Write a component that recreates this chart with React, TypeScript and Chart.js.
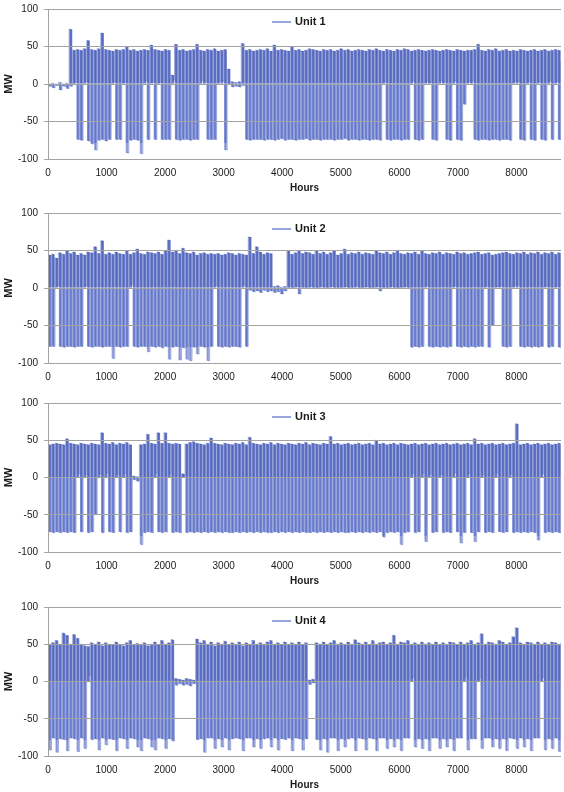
import React, { useEffect, useRef } from "react";
import { Chart, registerables } from "chart.js";

Chart.register(...registerables);

// ---------- data ----------
// Each unit is read off the picture as the highest (HI) and lowest (LO)
// reading inside every 60-hour window (window i starts at hour 60*i).
const BIN_HOURS = 60;
const X_TICKS = [0, 1000, 2000, 3000, 4000, 5000, 6000, 7000, 8000];
const Y_TICKS = [-100, -50, 0, 50, 100];
const UNIT_NAMES = ["Unit 1", "Unit 2", "Unit 3", "Unit 4"];

const UNIT1_HI = [
  0, 1, 0, 2, 0, 1, 73, 45, 46, 45,
  47, 58, 46, 45, 47, 68, 46, 45, 44, 46,
  45, 46, 50, 45, 46, 44, 45, 46, 45, 52,
  46, 45, 44, 46, 45, 12, 53, 45, 46, 44,
  45, 46, 53, 45, 44, 46, 45, 47, 44, 45,
  46, 20, 3, 2, 3, 54, 45, 46, 44, 45,
  46, 45, 47, 44, 52, 45, 46, 45, 44, 50,
  45, 46, 44, 45, 47, 46, 45, 44, 46, 45,
  46, 44, 45, 47, 45, 46, 44, 45, 46, 45,
  44, 46, 45, 47, 45, 44, 46, 45, 44, 46,
  45, 47, 46, 44, 45, 46, 45, 44, 45, 46,
  45, 44, 45, 46, 45, 44, 46, 45, 44, 45,
  45, 46, 53, 45, 44, 46, 45, 47, 44, 45,
  46, 44, 45, 44, 46, 45, 44, 45, 46, 44,
  45, 46, 44, 45, 46, 45, 30,
];
const UNIT1_LO = [
  -3, -5, -2, -8, -3, -6, -3, 2, -74, -75,
  3, -76, -80, -88, -75, -74, -76, -74, 3, -74,
  -74, 2, -92, -75, -74, -75, -93, 4, -74, 3,
  -74, 2, -74, -74, -74, 5, -74, -75, -74, -74,
  -75, -74, -74, 5, 3, -74, -74, -74, 3, 4,
  -88, 0, -4, -3, -4, -2, -74, -75, -74, -74,
  -74, -75, -74, -74, -75, -74, -73, -75, -74, -74,
  -75, -74, -74, -73, -75, -74, -74, -75, -74, -74,
  -74, -75, -74, -74, -73, -75, -74, -74, -75, -74,
  -74, -75, -74, -74, -75, 3, -74, -75, -74, -74,
  -75, -74, -74, 4, -74, -75, -74, 3, 2, -74,
  -75, 4, 3, -74, -75, 4, -74, -75, -27, 3,
  4, -74, -75, -74, -74, -75, -74, -74, -75, -74,
  -74, -75, 3, 4, -74, -75, 3, -74, -75, 3,
  -74, -75, 4, -74, 3, -74, 2,
];

const UNIT2_HI = [
  44, 45, 40, 47, 45, 50, 46, 48, 44, 46,
  44, 48, 47, 55, 46, 63, 45, 47, 45, 48,
  46, 45, 50, 45, 47, 52, 46, 45, 48, 47,
  46, 48, 45, 50, 64, 48, 50, 46, 53, 47,
  46, 48, 44, 46, 47, 45, 46, 45, 46, 44,
  45, 47, 46, 44, 46, 45, 44, 68, 46, 55,
  48, 45, 47, 46, 2, 3, 1, 2, 50, 45,
  47, 50, 46, 48, 47, 45, 50, 46, 48, 45,
  47, 50, 44, 46, 52, 45, 47, 46, 48, 45,
  47, 46, 45, 50, 47, 46, 48, 45, 47, 50,
  46, 45, 47, 46, 48, 45, 50, 46, 45, 47,
  46, 48, 45, 47, 46, 45, 48, 46, 47, 45,
  46, 47, 48, 45, 46, 47, 44, 45, 46, 47,
  48, 46, 45, 47, 46, 48, 45, 47, 46, 48,
  45, 47, 46, 48, 45, 47, 46,
];
const UNIT2_LO = [
  -78, -78, 3, -78, -79, -78, -78, -79, -78, -78,
  3, -78, -79, -78, -78, -79, -78, -78, -94, -78,
  -79, -78, -78, 5, -78, -79, -78, -78, -85, -78,
  -79, -78, -80, -78, -95, -79, -78, -96, -80, -95,
  -97, -79, -88, -78, -79, -97, -78, 3, -78, -79,
  -78, -79, -78, -78, -79, 4, -78, -3, -5, -4,
  -6, -3, -5, -4, -6, -5, -8, -4, 1, 0,
  2, -8, 1, 0, 2, 1, 0, 3, 1, 0,
  2, 1, 0, 1, 2, 0, 1, 3, 0, 1,
  2, 0, 1, 2, -4, 1, 0, 2, 1, 0,
  1, 2, 0, -79, -78, -79, -78, 3, -78, -79,
  -78, -79, -78, -79, -78, 3, -78, -79, -78, -79,
  -78, -79, -78, -78, 3, -79, -50, 2, 3, -78,
  -79, -78, 3, 4, -78, -79, -78, -79, -78, -79,
  -78, 3, -79, -78, 2, -79, -78,
];

const UNIT3_HI = [
  44, 45, 46, 45, 44, 52, 46, 45, 44, 46,
  45, 44, 46, 45, 44, 60, 46, 45, 47, 44,
  46, 45, 47, 44, 2, 1, 44, 45, 58, 46,
  45, 60, 46, 60, 46, 45, 46, 45, 5, 45,
  47, 48, 46, 45, 44, 46, 53, 46, 45, 44,
  46, 45, 44, 46, 45, 47, 44, 54, 46, 45,
  44, 46, 45, 47, 44, 46, 45, 44, 46, 45,
  44, 46, 45, 47, 44, 46, 45, 44, 46, 45,
  55, 45, 46, 44, 45, 46, 44, 45, 46, 44,
  45, 46, 44, 50, 45, 46, 44, 45, 46, 44,
  46, 45, 44, 45, 46, 44, 45, 46, 44, 45,
  46, 44, 45, 46, 44, 45, 46, 44, 45, 46,
  44, 52, 45, 46, 44, 45, 46, 44, 45, 46,
  44, 45, 46, 72, 44, 45, 46, 44, 45, 46,
  44, 45, 46, 44, 45, 46, 44,
];
const UNIT3_LO = [
  -73, -74, -73, -74, -73, -74, -73, -74, 5, -73,
  4, -74, -73, -50, 5, -74, 6, -73, -74, 4,
  -73, 5, -74, -73, -3, -5, -90, -74, -73, -74,
  6, -73, -74, -73, 5, -74, -73, -74, 2, -74,
  -73, -74, -73, -74, -73, -74, -73, -74, -73, -74,
  -73, -74, -74, -73, -74, -73, -74, -73, -74, -73,
  -74, -73, -74, -74, -73, -74, -73, -74, -73, -74,
  -73, -74, -73, -74, -74, -73, -74, -73, -74, -73,
  -74, -73, -74, -73, -74, -74, -73, -74, -73, -74,
  -73, -74, -73, -74, -73, -80, -74, -73, -74, -73,
  -90, -74, -73, 5, -74, -73, 6, -86, 5, -74,
  -73, 4, -74, -73, -74, 6, -73, -88, -74, 5,
  -74, -86, -73, 4, -74, -73, -74, 6, -73, -74,
  -73, 5, -74, -73, -74, -73, -74, -73, -74, -84,
  5, -74, -73, -74, -73, -74, -73,
];

const UNIT4_HI = [
  50, 52, 55, 50, 65, 62, 50, 63, 58, 50,
  48, 47, 52, 50, 53, 48, 52, 50, 49, 53,
  50, 48, 52, 55, 49, 51, 50, 52, 48, 50,
  53, 49, 55, 50, 52, 56, 4, 3, 2, 4,
  3, 2, 57, 52, 55, 50, 53, 48, 52, 50,
  54, 49, 52, 50, 53, 48, 52, 50, 55, 49,
  52, 50, 53, 55, 50, 52, 49, 53, 50, 52,
  50, 53, 49, 52, 2, 3, 52, 50, 53, 49,
  52, 55, 50, 52, 49, 53, 50, 56, 52, 50,
  53, 49, 55, 50, 52, 53, 50, 52, 62, 50,
  53, 52, 55, 50, 52, 49, 53, 50, 52, 50,
  53, 49, 52, 50, 53, 52, 49, 53, 50, 52,
  55, 50, 52, 64, 50, 53, 52, 50, 55, 53,
  50, 52, 60, 72, 52, 50, 53, 52, 50, 53,
  50, 52, 49, 53, 52, 50, 53,
];
const UNIT4_LO = [
  -92, -76, -95, -77, -78, -93, -76, -77, -94, -76,
  -90, 8, -78, -77, -92, -76, -85, -77, -78, -93,
  -76, -77, -90, -76, -77, -88, -93, -76, -77, -88,
  -92, -76, -77, -90, -77, -80, -5, -3, -5, -4,
  -6, -3, -78, -77, -95, -76, -76, -90, -77, -88,
  -76, -92, -77, -76, -77, -93, -76, -76, -88, -77,
  -90, -77, -76, -88, -76, -92, -77, -78, -76, -93,
  -76, -77, -92, -77, -4, -2, -78, -92, -77, -95,
  -76, -76, -93, -77, -88, -77, -76, -93, -76, -77,
  -92, -76, -77, -93, -76, -76, -90, -77, -88, -77,
  -93, -76, -76, 5, -88, -77, -90, -77, -93, -76,
  -76, -90, -77, -88, -77, -93, -76, -76, 6, -92,
  -77, -77, 4, -90, -76, -76, -88, -77, -90, -77,
  -93, -76, -77, -90, -76, -88, -77, -93, -76, -76,
  5, -92, -77, -90, -76, -94, -88,
];

const UNIT_HI = [UNIT1_HI, UNIT2_HI, UNIT3_HI, UNIT4_HI];
const UNIT_LO = [UNIT1_LO, UNIT2_LO, UNIT3_LO, UNIT4_LO];

// ---------- layout / style ----------
const FONT = '"Liberation Sans", Arial, sans-serif';
const UP_BAR = "rgba(80, 100, 190, 0.88)";
const DOWN_BAR = "rgba(100, 121, 206, 0.85)";
const DEEP_BAR = "rgba(146, 160, 222, 0.8)";
const TRACE = "rgba(60, 80, 178, 0.42)";
const LEGEND_COLOR = "rgb(118, 138, 212)";
const GRID_COLOR = "#a3a3a3";
const TEXT_COLOR = "#1a1a1a";
const PAD_TOP = 8;
const X_AXIS_H = 36;
const Y_AXIS_W = 48;

const PANEL_LAYOUT = [
  { plotTop: 5, plotH: 154, legendDy: 13, showHours: true },
  { plotTop: 209, plotH: 154, legendDy: 16, showHours: false },
  { plotTop: 399, plotH: 153, legendDy: 14, showHours: true },
  { plotTop: 603, plotH: 153, legendDy: 14, showHours: true },
];

// Lower bars: medium blue down to about -79 MW, lighter for the deeper spikes.
function lowerColor(c: any) {
  const chart = c.chart;
  const { ctx, chartArea, scales } = chart;
  if (!chartArea || !scales || !scales.y) return DOWN_BAR;
  const yCut = scales.y.getPixelForValue(-79);
  const span = chartArea.bottom - chartArea.top;
  if (!(span > 0) || !isFinite(yCut)) return DOWN_BAR;
  const t = Math.min(1, Math.max(0, (yCut - chartArea.top) / span));
  const g = ctx.createLinearGradient(0, chartArea.top, 0, chartArea.bottom);
  g.addColorStop(0, DOWN_BAR);
  g.addColorStop(t, DOWN_BAR);
  g.addColorStop(t, DEEP_BAR);
  g.addColorStop(1, DEEP_BAR);
  return g;
}

type PanelProps = {
  name: string;
  hi: number[];
  lo: number[];
  plotTop: number;
  plotH: number;
  legendDy: number;
  showHours: boolean;
};

function Panel({ name, hi, lo, plotTop, plotH, legendDy, showHours }: PanelProps) {
  const ref = useRef<HTMLCanvasElement | null>(null);
  const height = PAD_TOP + plotH + X_AXIS_H;

  useEffect(() => {
    if (!ref.current) return;
    const half = BIN_HOURS / 2;
    const upperBars = hi.map((h, i) => ({ x: i * BIN_HOURS + half, y: [0, Math.max(h, 0)] }));
    const lowerBars = lo.map((l, i) => ({ x: i * BIN_HOURS + half, y: [Math.min(l, 0), 0] }));
    const trace: { x: number; y: number }[] = [];
    hi.forEach((h, i) => {
      trace.push({ x: i * BIN_HOURS + half * 0.5, y: h });
      if (i < lo.length) trace.push({ x: i * BIN_HOURS + half * 1.5, y: lo[i] });
    });

    const legendPlugin = {
      id: "unitLegend",
      afterDraw(chart: any) {
        const { ctx, chartArea } = chart;
        const y = chartArea.top + legendDy;
        ctx.save();
        ctx.strokeStyle = LEGEND_COLOR;
        ctx.lineWidth = 1.5;
        ctx.beginPath();
        ctx.moveTo(272, y);
        ctx.lineTo(291, y);
        ctx.stroke();
        ctx.fillStyle = TEXT_COLOR;
        ctx.font = `bold 11px ${FONT}`;
        ctx.textBaseline = "middle";
        ctx.textAlign = "left";
        ctx.fillText(name, 295, y);
        ctx.restore();
      },
    };

    const barCommon = {
      type: "bar",
      grouped: false,
      barPercentage: 0.8,
      categoryPercentage: 1,
      borderWidth: 0,
      inflateAmount: 0,
      clip: 0,
    };

    const chart = new Chart(ref.current, {
      type: "bar",
      data: {
        datasets: [
          { ...barCommon, label: name + " low", data: lowerBars, backgroundColor: lowerColor, order: 3 } as any,
          { ...barCommon, label: name + " high", data: upperBars, backgroundColor: UP_BAR, order: 2 } as any,
          {
            type: "line",
            label: name,
            data: trace,
            borderColor: TRACE,
            borderWidth: 1,
            pointRadius: 0,
            stepped: "middle",
            fill: false,
            clip: 0,
            order: 1,
          } as any,
        ],
      },
      options: {
        animation: false,
        responsive: false,
        devicePixelRatio: 1,
        events: [],
        layout: { padding: { top: PAD_TOP, right: 3, left: 0, bottom: 0 } },
        plugins: {
          legend: { display: false },
          tooltip: { enabled: false },
          title: { display: false },
        },
        scales: {
          x: {
            type: "linear",
            min: 0,
            max: 8760,
            offset: false,
            afterFit: (s: any) => {
              s.height = X_AXIS_H;
            },
            afterBuildTicks: (s: any) => {
              s.ticks = X_TICKS.map((v) => ({ value: v }));
            },
            grid: { display: false, drawTicks: false, offset: false },
            border: { display: false },
            ticks: {
              padding: 8,
              maxRotation: 0,
              autoSkip: false,
              color: TEXT_COLOR,
              font: { family: FONT, size: 10 },
              callback: (v: any) => String(v),
            },
            title: {
              display: showHours,
              text: "Hours",
              color: TEXT_COLOR,
              font: { family: FONT, size: 10, weight: "bold" },
              padding: { top: 0, bottom: 1 },
            },
          },
          y: {
            min: -100,
            max: 100,
            afterFit: (s: any) => {
              s.width = Y_AXIS_W;
            },
            afterBuildTicks: (s: any) => {
              s.ticks = Y_TICKS.map((v) => ({ value: v }));
            },
            grid: { color: GRID_COLOR, lineWidth: 1, drawTicks: true, tickLength: 4, z: 1 },
            border: { display: true, color: GRID_COLOR, width: 1, z: 2 },
            ticks: {
              padding: 6,
              color: TEXT_COLOR,
              font: { family: FONT, size: 10 },
              callback: (v: any) => String(v),
            },
            title: {
              display: true,
              text: "MW",
              color: TEXT_COLOR,
              font: { family: FONT, size: 11, weight: "bold" },
              padding: { top: 2, bottom: 0 },
            },
          },
        },
      } as any,
      plugins: [legendPlugin],
    });
    return () => chart.destroy();
  }, [name, hi, lo, legendDy, showHours]);

  return (
    <canvas
      ref={ref}
      width={564}
      height={height}
      style={{
        position: "absolute",
        left: 0,
        top: plotTop - PAD_TOP,
        width: 564,
        height,
      }}
    />
  );
}

export default function App() {
  return (
    <div
      style={{
        position: "absolute",
        left: 0,
        top: 0,
        width: 564,
        height: 792,
        overflow: "hidden",
        background: "#ffffff",
      }}
    >
      {PANEL_LAYOUT.map((p, i) => (
        <Panel
          key={UNIT_NAMES[i]}
          name={UNIT_NAMES[i]}
          hi={UNIT_HI[i]}
          lo={UNIT_LO[i]}
          plotTop={p.plotTop}
          plotH={p.plotH}
          legendDy={p.legendDy}
          showHours={p.showHours}
        />
      ))}
    </div>
  );
}
